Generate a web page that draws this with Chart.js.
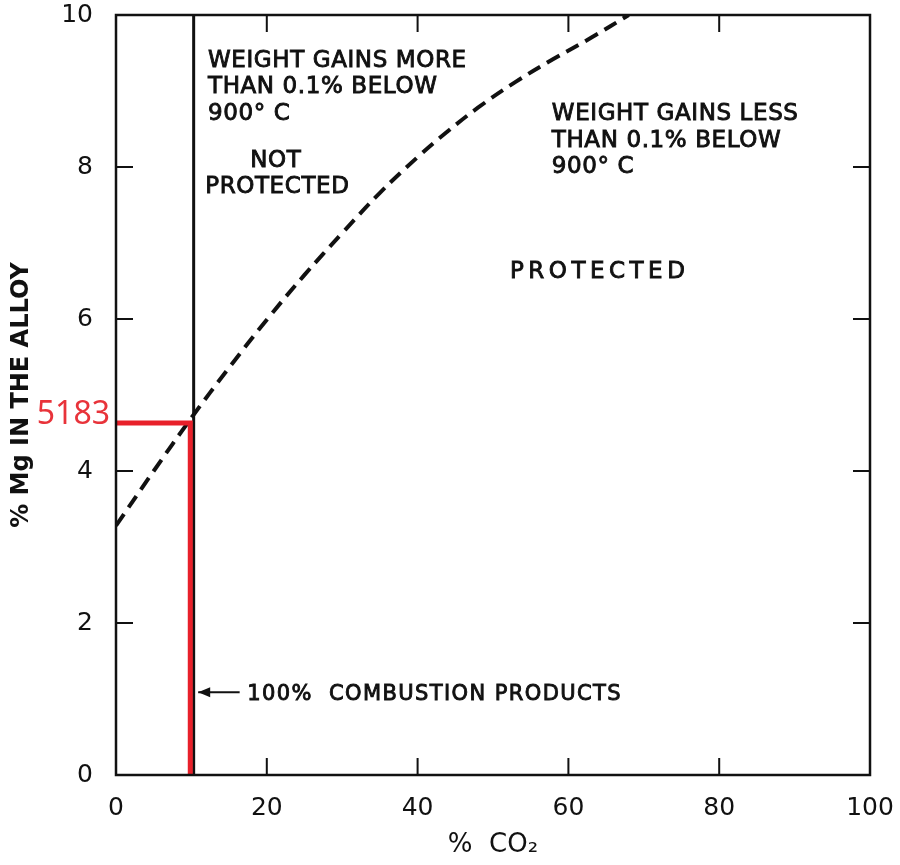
<!DOCTYPE html>
<html>
<head>
<meta charset="utf-8">
<script src="https://cdn.jsdelivr.net/npm/chart.js@4.4.0/dist/chart.umd.min.js"></script>
<style>
  html, body { margin: 0; padding: 0; background: #fff; }
</style>
</head>
<body>
<canvas id="mgChart" width="900" height="865"></canvas>
<script>
// dashed boundary: protected / not protected
const curveCO2 = [0, 5, 10, 15, 20, 25, 30, 35, 40, 44, 48, 53, 58, 63, 68];
const curveMg = [3.28, 4.0, 4.7, 5.36, 5.99, 6.58, 7.13, 7.66, 8.13, 8.47, 8.78, 9.12, 9.42, 9.7, 10];

// 100% combustion products (vertical line)
const combustionCO2 = [10.3, 10.3];
const combustionMg = [0, 10];

// red marker
const markerCO2 = [0, 9.85, 9.85];
const markerMg = [4.63, 4.63, 0];
const markerLabel = "5183";

const xTicks = [0, 20, 40, 60, 80, 100];
const yTicks = [0, 2, 4, 6, 8, 10];

const toPoints = (xs, ys) => xs.map((x, i) => ({ x: x, y: ys[i] }));

// text placed on the plot, in data units
const notes = [
  { text: "WEIGHT GAINS MORE", x: 12.2, y: 9.32, align: "left" },
  { text: "THAN 0.1% BELOW", x: 12.2, y: 8.97, align: "left" },
  { text: "900° C", x: 12.2, y: 8.62, align: "left" },
  { text: "NOT", x: 21.2, y: 8.0, align: "center" },
  { text: "PROTECTED", x: 21.4, y: 7.66, align: "center" },
  { text: "WEIGHT GAINS LESS", x: 57.8, y: 8.62, align: "left" },
  { text: "THAN 0.1% BELOW", x: 57.8, y: 8.26, align: "left" },
  { text: "900° C", x: 57.8, y: 7.92, align: "left" },
  { text: "PROTECTED", x: 52.25, y: 6.54, align: "left", spacing: 4.5 },
  { text: "100%  COMBUSTION PRODUCTS", x: 17.4, y: 0.99, align: "left", size: 21, spacing: 1.4 }
];

const framePlugin = {
  id: "frame",
  afterDatasetsDraw(chart) {
    const ctx = chart.ctx;
    const a = chart.chartArea;
    const xs = chart.scales.x;
    const ys = chart.scales.y;
    ctx.save();
    ctx.strokeStyle = "#111";
    ctx.lineWidth = 2.5;
    ctx.strokeRect(a.left, a.top, a.right - a.left, a.bottom - a.top);

    // inward ticks on all four sides
    ctx.lineWidth = 2;
    const len = 17;
    xTicks.slice(1, -1).forEach(v => {
      const px = xs.getPixelForValue(v);
      ctx.beginPath();
      ctx.moveTo(px, a.bottom); ctx.lineTo(px, a.bottom - len);
      ctx.moveTo(px, a.top); ctx.lineTo(px, a.top + len);
      ctx.stroke();
    });
    yTicks.slice(1, -1).forEach(v => {
      const py = ys.getPixelForValue(v);
      ctx.beginPath();
      ctx.moveTo(a.left, py); ctx.lineTo(a.left + len, py);
      ctx.moveTo(a.right, py); ctx.lineTo(a.right - len, py);
      ctx.stroke();
    });

    // annotations (a thin stroke makes the lettering a bit heavier)
    ctx.fillStyle = "#111";
    ctx.lineWidth = 0.9;
    ctx.textBaseline = "alphabetic";
    notes.forEach(n => {
      ctx.font = (n.size || 23) + 'px "DejaVu Sans"';
      ctx.letterSpacing = (n.spacing || 0.6) + "px";
      ctx.textAlign = n.align;
      const px = xs.getPixelForValue(n.x);
      const py = ys.getPixelForValue(n.y);
      ctx.fillText(n.text, px, py);
      ctx.strokeText(n.text, px, py);
    });
    ctx.letterSpacing = "0px";

    // arrow pointing at the combustion line
    const ay = ys.getPixelForValue(1.09);
    const ax0 = xs.getPixelForValue(16.4);
    const ax1 = xs.getPixelForValue(10.9);
    ctx.lineWidth = 2;
    ctx.beginPath();
    ctx.moveTo(ax0, ay); ctx.lineTo(ax1, ay);
    ctx.stroke();
    ctx.beginPath();
    ctx.moveTo(ax1, ay);
    ctx.lineTo(ax1 + 12, ay - 5);
    ctx.lineTo(ax1 + 12, ay + 5);
    ctx.closePath();
    ctx.fill();

    // red value label
    ctx.fillStyle = "#e8333a";
    ctx.font = '32px "Noto Sans"';
    ctx.textAlign = "right";
    ctx.fillText(markerLabel, a.left - 6, ys.getPixelForValue(markerMg[0]) + 1);
    ctx.restore();
  }
};

const ctx = document.getElementById("mgChart").getContext("2d");
new Chart(ctx, {
  type: "scatter",
  data: {
    datasets: [
      {
        data: toPoints(markerCO2, markerMg),
        showLine: true,
        borderColor: "#e8202a",
        borderWidth: 5,
        pointRadius: 0,
        borderJoinStyle: "miter"
      },
      {
        data: toPoints(combustionCO2, combustionMg),
        showLine: true,
        borderColor: "#111",
        borderWidth: 3,
        pointRadius: 0
      },
      {
        data: toPoints(curveCO2, curveMg),
        showLine: true,
        borderColor: "#111",
        borderWidth: 4,
        borderDash: [14, 8],
        tension: 0.4,
        pointRadius: 0
      }
    ]
  },
  options: {
    responsive: false,
    animation: false,
    layout: { padding: { top: 15, right: 30, left: 0, bottom: 0 } },
    plugins: {
      legend: { display: false },
      tooltip: { enabled: false }
    },
    scales: {
      x: {
        type: "linear",
        min: 0,
        max: 100,
        afterBuildTicks: s => { s.ticks = xTicks.map(v => ({ value: v })); },
        afterFit: s => { s.height = 90; s.paddingLeft = 0; s.paddingRight = 0; },
        grid: { display: false, drawTicks: false },
        border: { display: false },
        ticks: {
          padding: 18,
          color: "#111",
          font: { family: "DejaVu Sans", size: 25 },
          maxRotation: 0
        },
        title: {
          display: true,
          text: "%  CO₂",
          color: "#111",
          font: { family: "DejaVu Sans", size: 26 },
          padding: { top: 0, bottom: 4 }
        }
      },
      y: {
        type: "linear",
        min: 0,
        max: 10,
        afterBuildTicks: s => { s.ticks = yTicks.map(v => ({ value: v })); },
        afterFit: s => { s.width = 116; s.paddingTop = 0; s.paddingBottom = 0; },
        grid: { display: false, drawTicks: false },
        border: { display: false },
        ticks: {
          padding: 23,
          color: "#111",
          font: { family: "DejaVu Sans", size: 25 }
        },
        title: {
          display: true,
          text: "% Mg IN THE ALLOY",
          color: "#111",
          font: { family: "DejaVu Sans", size: 24, weight: "bold" },
          padding: { top: 7, bottom: 0 }
        }
      }
    }
  },
  plugins: [framePlugin]
});
</script>
</body>
</html>
